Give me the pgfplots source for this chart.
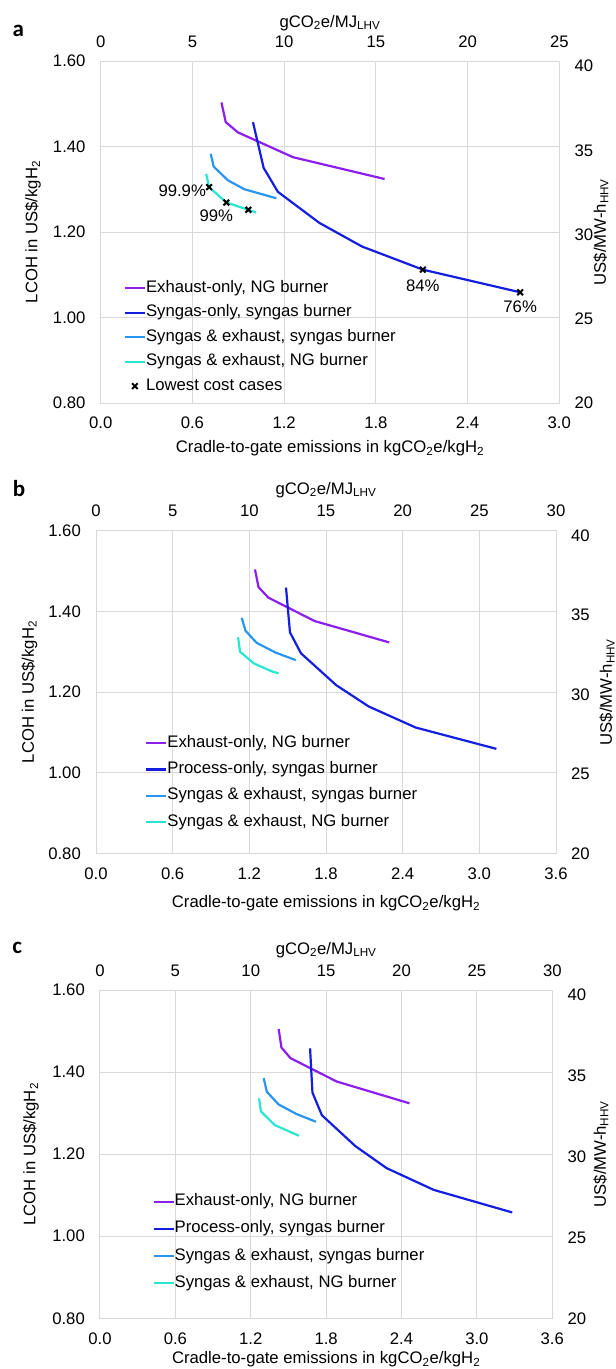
\documentclass[border=0pt]{standalone}
\usepackage{pgfplots}
\pgfplotsset{compat=1.18}
\usepackage{fontspec}
\setmainfont{Liberation Sans}
\newfontfamily\carlito{Carlito}
\definecolor{gridc}{RGB}{217,217,217}
\definecolor{cpurple}{RGB}{140,30,240}
\definecolor{cblue}{RGB}{20,30,225}
\definecolor{clight}{RGB}{40,150,240}
\definecolor{ccyan}{RGB}{40,230,210}
\pgfplotsset{
  base/.style={scale only axis, /pgf/number format/assume math mode=true},
  main/.style={base, grid=major,
    major grid style={draw=gridc, line width=1pt},
    axis line style={draw=gridc, line width=1pt},
    tick style={draw=none},
    ymin=0.8, ymax=1.6, ytick={0.8,1.0,1.2,1.4,1.6}, xmin=0,
    yticklabel style={anchor=east, inner sep=0pt, xshift=-15pt,
      /pgf/number format/fixed, /pgf/number format/fixed zerofill, /pgf/number format/precision=2},
    xticklabel style={anchor=center, inner sep=0pt, yshift=-20pt,
      /pgf/number format/fixed, /pgf/number format/fixed zerofill, /pgf/number format/precision=1},
    legend cell align=left,
    legend style={draw=none, fill=none, inner sep=0pt, outer sep=0pt, anchor=north west,
      nodes={inner sep=0pt, text height=12pt, text depth=3.5pt}},
    legend image code/.code={\draw[##1] (0pt,0pt) -- (20pt,0pt);},
    xlabel={Cradle-to-gate emissions in kgCO\textsubscript{2}e/kgH\textsubscript{2}},
    ylabel={LCOH in US\$/kgH\textsubscript{2}},
  },
  marklegend/.style={legend image code/.code={\draw[mark repeat=2,mark phase=2,##1] plot coordinates {(0pt,0pt) (10pt,0pt) (20pt,0pt)};}},
  sec/.style={base, axis x line*=top, axis y line*=right,
    axis line style={draw=none}, tick style={draw=none},
    ymin=20, ymax=40.3, ytick={20,25,30,35,40}, xmin=0,
    yticklabel style={anchor=west, inner sep=0pt, xshift=15pt},
    xticklabel style={anchor=center, inner sep=0pt, yshift=19.5pt},
    xlabel={gCO\textsubscript{2}e/MJ\textsubscript{LHV}},
    ylabel={US\$/MW-h\textsubscript{HHV}},
  },
  lp/.style={color=cpurple, line width=2.2pt},
  lb/.style={color=cblue, line width=2.2pt},
  ll/.style={color=clight, line width=2.2pt},
  lc/.style={color=ccyan, line width=2.2pt},
}
\begin{document}
\fontsize{16.7}{20}\selectfont
\begin{tikzpicture}
\useasboundingbox (0pt,0pt) rectangle (616pt,-1369pt);
% ---------------- panel a
\node[font=\fontsize{23}{27}\selectfont\carlito\bfseries] at (18.3pt,-31pt) {a};
\begin{axis}[main, at={(100.7pt,-403pt)}, anchor=south west, width=458.6pt, height=342pt,
  xmax=3.0, xtick={0,0.6,1.2,1.8,2.4,3.0},
  xlabel style={at={(axis description cs:0.5,-0.1325)}, anchor=center},
  ylabel style={at={(axis description cs:-0.1476,0.5)}, anchor=center},
  legend style={at={(axis description cs:0.0504,0.3585)}, row sep=9pt}]
\addplot[lp] coordinates {(0.790,1.503) (0.818,1.457) (0.898,1.433) (1.258,1.375) (1.857,1.324)};
\addlegendentry{Exhaust-only, NG burner}
\addplot[lb] coordinates {(0.996,1.457) (1.066,1.350) (1.159,1.294) (1.432,1.221) (1.710,1.166) (2.107,1.112) (2.744,1.059)};
\addlegendentry{Syngas-only, syngas burner}
\addplot[ll] coordinates {(0.720,1.383) (0.739,1.353) (0.832,1.321) (0.940,1.300) (1.149,1.279)};
\addlegendentry{Syngas \& exhaust, syngas burner}
\addplot[lc] coordinates {(0.690,1.336) (0.709,1.305) (0.822,1.269) (0.966,1.252) (1.016,1.246)};
\addlegendentry{Syngas \& exhaust, NG burner}
\addplot[only marks, mark=x, mark size=4pt, line width=2pt, black, marklegend]
  coordinates {(0.709,1.305) (0.822,1.269) (0.966,1.252) (2.107,1.112) (2.744,1.059)};
\addlegendentry{Lowest cost cases}
\node[anchor=east, inner sep=0pt, xshift=-3pt, yshift=-4pt] at (axis cs:0.709,1.305) {99.9\%};
\node[anchor=center, inner sep=0pt, xshift=-10pt, yshift=-13pt] at (axis cs:0.822,1.269) {99\%};
\node[anchor=center, inner sep=0pt, yshift=-16.5pt] at (axis cs:2.107,1.112) {84\%};
\node[anchor=center, inner sep=0pt, yshift=-14pt] at (axis cs:2.744,1.059) {76\%};
\end{axis}
\begin{axis}[sec, at={(100.7pt,-403pt)}, anchor=south west, width=458.6pt, height=342pt,
  xmax=25, xtick={0,5,10,15,20,25},
  xlabel style={at={(axis description cs:0.5,1.111)}, anchor=center},
  ylabel style={at={(axis description cs:1.0909,0.5)}, anchor=center}]
\end{axis}
% ---------------- panel b
\node[font=\fontsize{23}{27}\selectfont\carlito\bfseries] at (19pt,-488.3pt) {b};
\begin{axis}[main, at={(96pt,-853.3pt)}, anchor=south west, width=460pt, height=322.6pt,
  xmax=3.6, xtick={0,0.6,1.2,1.8,2.4,3.0,3.6},
  xlabel style={at={(axis description cs:0.5,-0.155)}, anchor=center},
  ylabel style={at={(axis description cs:-0.1446,0.5)}, anchor=center},
  legend style={at={(axis description cs:0.107,0.365)}, row sep=10.7pt}]
\addplot[lp] coordinates {(1.244,1.504) (1.272,1.460) (1.349,1.434) (1.711,1.376) (2.295,1.323)};
\addlegendentry{Exhaust-only, NG burner}
\addplot[lb] coordinates {(1.487,1.459) (1.518,1.348) (1.604,1.296) (1.880,1.217) (2.135,1.164) (2.501,1.112) (3.134,1.059)};
\addlegendentry{Process-only, syngas burner}
\addplot[ll] coordinates {(1.140,1.384) (1.170,1.352) (1.257,1.322) (1.404,1.298) (1.564,1.279)};
\addlegendentry{Syngas \& exhaust, syngas burner}
\addplot[lc] coordinates {(1.112,1.336) (1.127,1.300) (1.235,1.271) (1.370,1.252) (1.429,1.246)};
\addlegendentry{Syngas \& exhaust, NG burner}
\end{axis}
\begin{axis}[sec, at={(96pt,-853.3pt)}, anchor=south west, width=460pt, height=322.6pt,
  xmax=30, xtick={0,5,10,15,20,25,30},
  xlabel style={at={(axis description cs:0.5,1.126)}, anchor=center},
  ylabel style={at={(axis description cs:1.111,0.5)}, anchor=center}]
\end{axis}
% ---------------- panel c
\node[font=\fontsize{23}{27}\selectfont\carlito\bfseries] at (17.3pt,-948.3pt) {c};
\begin{axis}[main, at={(100pt,-1318.3pt)}, anchor=south west, width=452.3pt, height=328.3pt,
  xmax=3.6, xtick={0,0.6,1.2,1.8,2.4,3.0,3.6},
  xlabel style={at={(axis description cs:0.5,-0.1249)}, anchor=center},
  ylabel style={at={(axis description cs:-0.1526,0.5)}, anchor=center},
  legend style={at={(axis description cs:0.116,0.379)}, row sep=11.6pt}]
\addplot[lp] coordinates {(1.422,1.505) (1.444,1.460) (1.516,1.434) (1.884,1.377) (2.463,1.324)};
\addlegendentry{Exhaust-only, NG burner}
\addplot[lb] coordinates {(1.672,1.458) (1.691,1.350) (1.766,1.295) (2.031,1.220) (2.281,1.166) (2.656,1.113) (3.281,1.058)};
\addlegendentry{Process-only, syngas burner}
\addplot[ll] coordinates {(1.303,1.385) (1.328,1.352) (1.422,1.321) (1.563,1.298) (1.719,1.279)};
\addlegendentry{Syngas \& exhaust, syngas burner}
\addplot[lc] coordinates {(1.266,1.336) (1.281,1.304) (1.391,1.271) (1.530,1.252) (1.584,1.245)};
\addlegendentry{Syngas \& exhaust, NG burner}
\end{axis}
\begin{axis}[sec, at={(100pt,-1318.3pt)}, anchor=south west, width=452.3pt, height=328.3pt,
  xmax=30, xtick={0,5,10,15,20,25,30},
  xlabel style={at={(axis description cs:0.5,1.1218)}, anchor=center},
  ylabel style={at={(axis description cs:1.1077,0.5)}, anchor=center}]
\end{axis}
\end{tikzpicture}
\end{document}
